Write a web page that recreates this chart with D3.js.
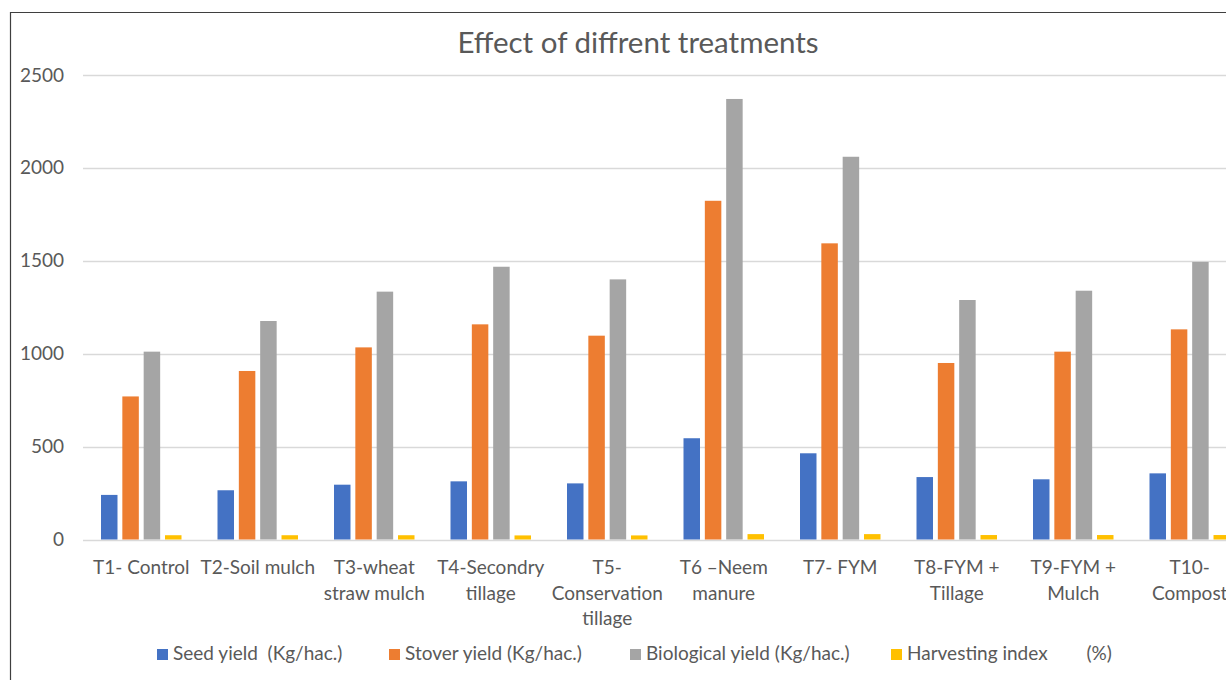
<!DOCTYPE html>
<html>
<head>
<meta charset="utf-8">
<script src="https://cdn.jsdelivr.net/npm/d3@7"></script>
<style>
  html, body { margin: 0; padding: 0; background: #fff; overflow: hidden; }
  svg { display: block; font-family: Lato, "Open Sans", sans-serif; }
</style>
</head>
<body>
<svg id="chart" width="1226" height="680"></svg>
<script>
// ---- data ----
const categories = ["T1- Control", "T2-Soil mulch", "T3-wheat straw mulch", "T4-Secondry tillage",
  "T5- Conservation tillage", "T6 –Neem manure", "T7- FYM", "T8-FYM + Tillage", "T9-FYM + Mulch", "T10-Compost"];
const categoryLines = [
  ["T1- Control"], ["T2-Soil mulch"], ["T3-wheat", "straw mulch"], ["T4-Secondry", "tillage"],
  ["T5-", "Conservation", "tillage"], ["T6 –Neem", "manure"], ["T7- FYM"],
  ["T8-FYM +", "Tillage"], ["T9-FYM +", "Mulch"], ["T10-", "Compost"]
];
const seriesNames = ["Seed yield  (Kg/hac.)", "Stover yield (Kg/hac.)", "Biological yield (Kg/hac.)", "Harvesting index        (%)"];
const seedYield       = [240, 265, 295, 313, 302, 545, 464, 336, 324, 356];
const stoverYield     = [770, 907, 1034, 1158, 1097, 1823, 1594, 950, 1011, 1131];
const biologicalYield = [1011, 1176, 1334, 1468, 1400, 2371, 2060, 1289, 1339, 1494];
const harvestingIndex = [23, 23, 23, 22, 22, 29, 29, 24, 24, 24];
const yTicks = [0, 500, 1000, 1500, 2000, 2500];
const colors = ["#4472C4", "#ED7D31", "#A5A5A5", "#FFC000"];
const title = "Effect of diffrent treatments";

const seriesValues = [seedYield, stoverYield, biologicalYield, harvestingIndex];

// ---- layout ----
const svg = d3.select("#chart");
const plotLeft = 83, plotRight = 1248, plotTop = 75, plotBottom = 539.5;
const textColor = "#595959";

// frame
svg.append("path")
  .attr("d", `M10.5,680 L10.5,12.5 L1226,12.5`)
  .attr("fill", "none").attr("stroke", "#3f3f3f").attr("stroke-width", 1.2);

const y = d3.scaleLinear().domain([0, 2500]).range([plotBottom, plotTop]);
const x0 = d3.scaleBand().domain(categories).range([plotLeft, plotRight])
  .paddingInner(0.309).paddingOuter(0.1545);
const x1 = d3.scaleBand().domain(d3.range(4)).range([0, x0.bandwidth()]).paddingInner(0.227);

// gridlines
svg.append("g").selectAll("line").data(yTicks).join("line")
  .attr("x1", plotLeft).attr("x2", 1226)
  .attr("y1", d => Math.round(y(d)) + 0.5).attr("y2", d => Math.round(y(d)) + 0.5)
  .attr("stroke", "#d9d9d9").attr("stroke-width", 1.5);

// y axis labels
const yAxis = d3.axisLeft(y).tickValues(yTicks).tickFormat(d3.format("d")).tickSize(0).tickPadding(0);
const yg = svg.append("g").attr("transform", `translate(64,0)`).call(yAxis);
yg.select(".domain").remove();
yg.selectAll("text").attr("fill", textColor).style("font-size", "19px").style("font-family", "Lato, sans-serif");

// bars
const groups = svg.append("g").selectAll("g").data(categories).join("g")
  .attr("transform", d => `translate(${x0(d)},0)`);
groups.selectAll("rect").data((d, i) => seriesValues.map((s, k) => ({k, v: s[i]}))).join("rect")
  .attr("x", d => x1(d.k))
  .attr("width", x1.bandwidth())
  .attr("y", d => y(d.v))
  .attr("height", d => y(0) - y(d.v))
  .attr("fill", d => colors[d.k]);

// x axis labels
const xl = svg.append("g").selectAll("text").data(categories).join("text")
  .attr("x", d => x0(d) + x0.bandwidth() / 2)
  .attr("y", 574)
  .attr("text-anchor", "middle")
  .attr("fill", textColor)
  .style("font-size", "19px");
xl.each(function(d, i) {
  d3.select(this).selectAll("tspan").data(categoryLines[i]).join("tspan")
    .attr("x", x0(d) + x0.bandwidth() / 2)
    .attr("dy", (t, j) => j === 0 ? 0 : 25.5)
    .text(t => t);
});

// title
svg.append("text").attr("x", 638).attr("y", 53).attr("text-anchor", "middle")
  .attr("fill", textColor).style("font-size", "29.5px").text(title);

// legend
const legendX = [157, 389, 630, 891];
const lg = svg.append("g").selectAll("g").data(seriesNames).join("g")
  .attr("transform", (d, i) => `translate(${legendX[i]},649)`);
lg.append("rect").attr("width", 11).attr("height", 11).attr("fill", (d, i) => colors[i]);
lg.append("text").attr("x", 16).attr("y", 11).attr("fill", textColor)
  .style("font-size", "19px").style("white-space", "pre").text(d => d);
</script>
</body>
</html>
